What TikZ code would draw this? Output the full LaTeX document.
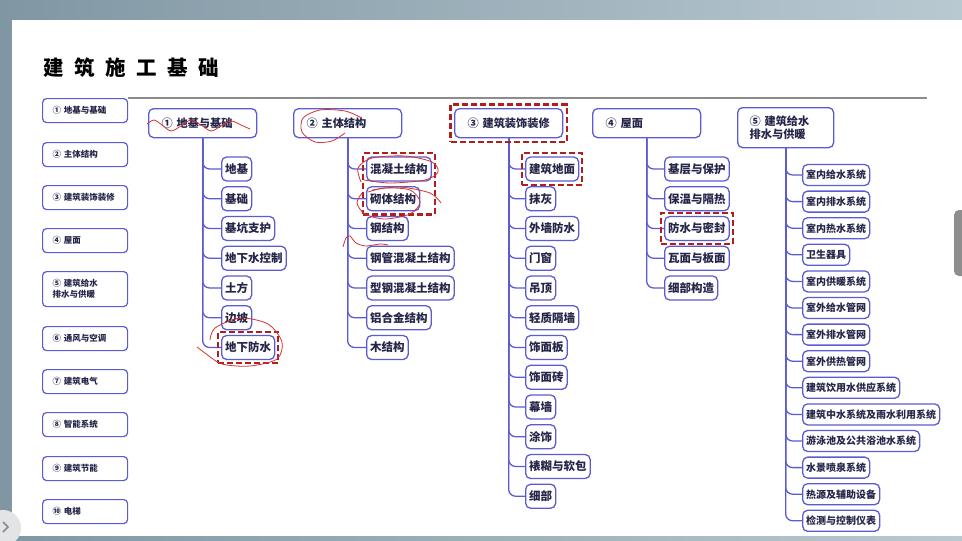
\documentclass[tikz,border=0pt]{standalone}
\usepackage{fontspec}
\setmainfont{Noto Sans CJK SC}
\usetikzlibrary{fit}
\definecolor{bc}{HTML}{5C5CD2}
\definecolor{tc}{HTML}{25254A}
\definecolor{rd}{HTML}{B01E1E}
\definecolor{pen}{HTML}{D83232}
\definecolor{bgL}{HTML}{8097A3}
\definecolor{bgR}{HTML}{B9C9D2}
\definecolor{tabgray}{HTML}{8E8E8E}
\definecolor{circgray}{HTML}{E2E4E6}
\definecolor{chev}{HTML}{8A8A8A}
\definecolor{rule}{HTML}{8C8C8C}
\tikzset{
  side/.style={draw=bc,line width=1.2pt,rounded corners=4pt,fill=white,text width=65pt,inner xsep=10pt,inner ysep=0pt,minimum height=24pt,font=\bfseries\fontsize{8.5}{11}\selectfont,align=left,anchor=north west,text=tc},
  head/.style={draw=bc,line width=1.3pt,rounded corners=5pt,fill=white,text width=82pt,inner xsep=13pt,inner ysep=0pt,minimum height=29pt,font=\bfseries\fontsize{11.2}{13}\selectfont,align=left,anchor=north west,text=tc},
  item/.style={draw=bc,line width=1.3pt,rounded corners=5pt,fill=white,inner xsep=3.5pt,inner ysep=0pt,minimum height=24pt,font=\bfseries\fontsize{11.5}{13}\selectfont,anchor=west,text=tc},
  itemS/.style={item,minimum height=21pt,font=\bfseries\fontsize{10}{12}\selectfont},
  conn/.style={draw=bc,line width=1.3pt,rounded corners=7pt},
  redbox/.style={draw=rd,line width=2.2pt,dash pattern=on 6pt off 3pt,inner sep=3pt},
  ink/.style={draw=pen,line width=0.8pt}
}
\begin{document}
\begin{tikzpicture}[x=1pt,y=-1pt]
\useasboundingbox (0,0) rectangle (962,541);
% screen background
\shade[left color=bgL,right color=bgR] (0,0) rectangle (962,541);
\fill[white] (12,20) rectangle (962,536);
\fill[tabgray,rounded corners=5pt] (954,210) rectangle (970,276);
\fill[circgray] (3,528) circle (18);
\draw[chev,line width=1.5pt] (3,522) -- (8,527) -- (3,532);
% title
\node[anchor=west,font=\bfseries\fontsize{20.5}{23}\selectfont,text=black,inner sep=0pt] (title) at (43,68)
  {建\hspace{10.5pt}筑\hspace{10.5pt}施\hspace{10.5pt}工\hspace{10.5pt}基\hspace{10.5pt}础};
\draw[rule,line width=1.6pt] (128,98) -- (927,98);
% sidebar
\node[side] (s1) at (42,98) {① 地基与基础};
\node[side] (s2) at (42,142) {② 主体结构};
\node[side] (s3) at (42,185) {③ 建筑装饰装修};
\node[side] (s4) at (42,228) {④ 屋面};
\node[side,minimum height=35pt] (s5) at (42,271) {⑤ 建筑给水\\排水与供暖};
\node[side] (s6) at (42,326) {⑥ 通风与空调};
\node[side] (s7) at (42,369) {⑦ 建筑电气};
\node[side] (s8) at (42,412) {⑧ 智能系统};
\node[side] (s9) at (42,456) {⑨ 建筑节能};
\node[side] (s10) at (42,499) {⑩ 电梯};
% headers
\node[head] (h1) at (148,108) {① 地基与基础};
\node[head] (h2) at (293,108) {② 主体结构};
\node[head] (h3) at (454,108) {\mbox{③ 建筑装饰装修}};
\node[head] (h4) at (592,108) {④ 屋面};
\node[head,text width=72pt,inner xsep=12pt,minimum height=40pt,font=\bfseries\fontsize{11.2}{12.5}\selectfont] (h5) at (737,107) {⑤ 建筑给水\\排水与供暖};
% column 1
\foreach \t [count=\i from 0] in {地基,基础,基坑支护,地下水控制,土方,边坡,地下防水}{
  \node[item] (a\i) at (221,169+29.75*\i) {\t};
  \draw[conn] (h1.south) |- (a\i.west);
}
% column 2
\foreach \t [count=\i from 0] in {混凝土结构,砌体结构,钢结构,钢管混凝土结构,型钢混凝土结构,铝合金结构,木结构}{
  \node[item] (b\i) at (366,169+29.75*\i) {\t};
  \draw[conn] (h2.south) |- (b\i.west);
}
% column 3
\foreach \t [count=\i from 0] in {建筑地面,抹灰,外墙防水,门窗,吊顶,轻质隔墙,饰面板,饰面砖,幕墙,涂饰,裱糊与软包,细部}{
  \node[item] (c\i) at (525,169+29.75*\i) {\t};
  \draw[conn] (h3.south) |- (c\i.west);
}
% column 4
\foreach \t [count=\i from 0] in {基层与保护,保温与隔热,防水与密封,瓦面与板面,细部构造}{
  \node[item] (d\i) at (664,169+29.75*\i) {\t};
  \draw[conn] (h4.south) |- (d\i.west);
}
% column 5
\foreach \t [count=\i from 0] in {室内给水系统,室内排水系统,室内热水系统,卫生器具,室内供暖系统,室外给水管网,室外排水管网,室外供热管网,建筑饮用水供应系统,建筑中水系统及雨水利用系统,游泳池及公共浴池水系统,水景喷泉系统,热源及辅助设备,检测与控制仪表}{
  \node[itemS] (e\i) at (802,175+26.6*\i) {\t};
  \draw[conn] (h5.south) |- (e\i.west);
}
% red dashed highlights
\node[redbox,inner sep=3.5pt,fit=(h3)] (r1) {};
\node[redbox,fit=(b0)(b1)] (r2) {};
\node[redbox,fit=(a6)] (r3) {};
\node[redbox,fit=(c0)] (r4) {};
\node[redbox,fit=(d2)] (r5) {};
% hand-drawn annotations
\draw[ink] plot[smooth] coordinates {(147,124) (154,120) (162,125) (171,131) (181,126) (191,120) (201,125) (211,131) (221,126) (231,121) (241,125) (250,129)};
\draw[ink] plot[smooth] coordinates {(362,118) (345,111) (320,110) (303,118) (302,132) (315,142) (332,141) (345,133)};
\draw[ink] plot[smooth] coordinates {(361,182) (358,168) (372,158) (405,156) (432,162) (438,172) (425,180) (390,183) (364,180)};
\draw[ink] plot[smooth] coordinates {(362,193) (357,203) (365,214) (385,219) (410,214) (420,202) (410,190) (385,188) (368,192)};
\draw[ink] plot[smooth] coordinates {(372,190) (400,187) (430,193) (441,203)};
\draw[ink] plot[smooth] coordinates {(343,247) (346,238) (350,236) (356,243) (366,246) (380,244) (388,245)};
\draw[ink] plot[smooth] coordinates {(210,340) (215,328) (240,318) (268,324) (282,342) (277,359) (250,366) (222,364) (205,353) (197,347)};
\end{tikzpicture}
\end{document}
